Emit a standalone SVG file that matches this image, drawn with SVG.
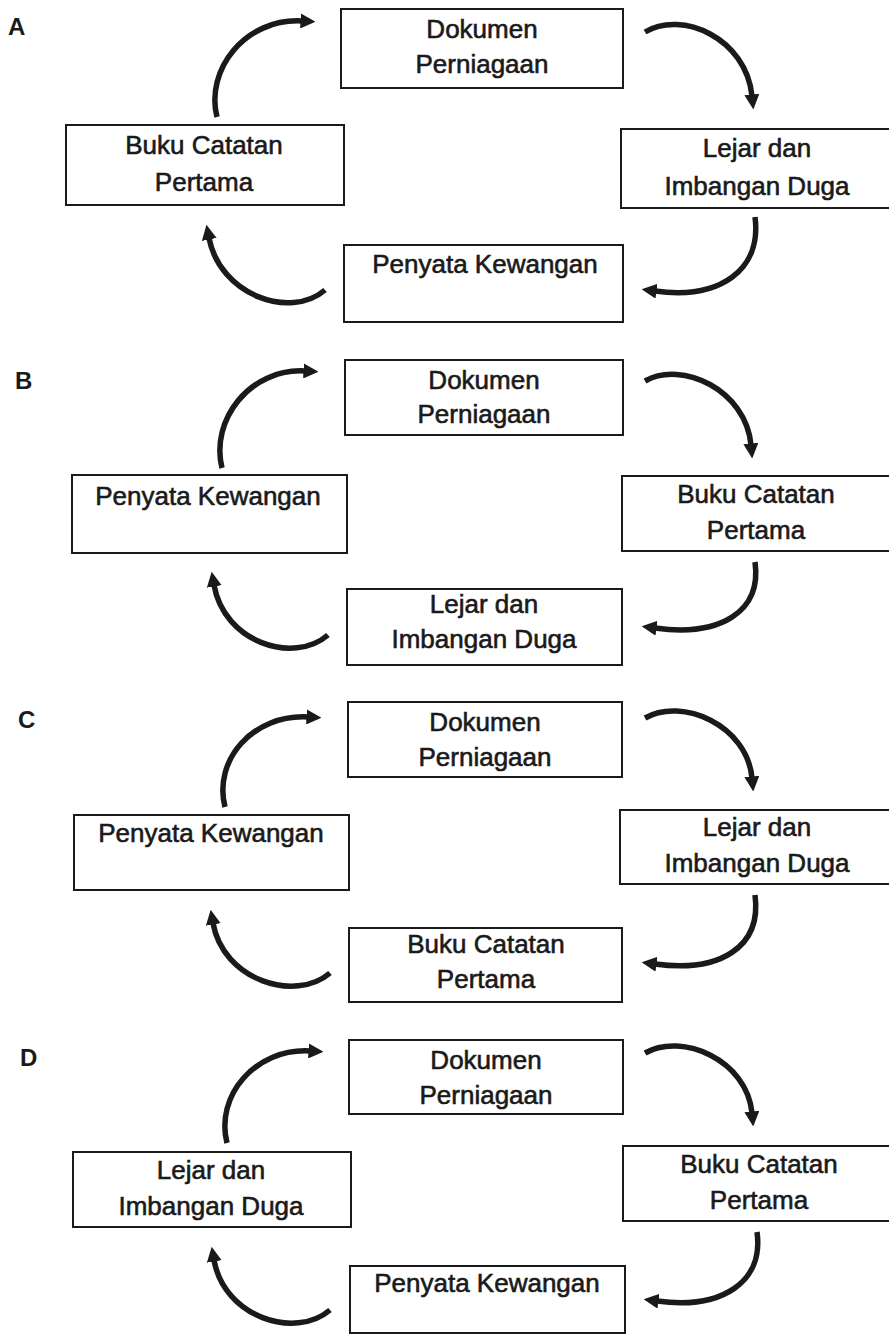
<svg xmlns="http://www.w3.org/2000/svg" width="889" height="1341" viewBox="0 0 889 1341">
<defs>
<style>
.box{fill:#fff;stroke:#1a1a1a;stroke-width:2}
.t{font-family:"Liberation Sans",Arial,sans-serif;font-size:26px;fill:#1a1a1a;stroke:#1a1a1a;stroke-width:0.6px;text-anchor:middle}
.lbl{font-family:"Liberation Sans",Arial,sans-serif;font-size:24px;font-weight:bold;fill:#1a1a1a}
.arr{fill:none;stroke:#1a1a1a;stroke-width:5.5;stroke-linecap:butt;marker-end:url(#ah)}
</style>
<marker id="ah" viewBox="0 0 10 10" refX="1" refY="5" markerWidth="15" markerHeight="15" markerUnits="userSpaceOnUse" orient="auto">
<path d="M0,0 L10,5 L0,10 z" fill="#1a1a1a"/>
</marker>
</defs>
<rect width="889" height="1341" fill="#fff"/>

<!-- Section A -->
<text class="lbl" x="8" y="35">A</text>
<g id="a-dokumen"><rect class="box" x="341" y="9" width="282" height="79"/><text class="t" x="482" y="38">Dokumen</text><text class="t" x="482" y="73">Perniagaan</text></g>
<g id="a-buku"><rect class="box" x="66" y="125" width="278" height="80"/><text class="t" x="204" y="154">Buku Catatan</text><text class="t" x="204" y="191">Pertama</text></g>
<g id="a-lejar"><rect class="box" x="621" y="129" width="272" height="79"/><text class="t" x="757" y="157">Lejar dan</text><text class="t" x="757" y="195">Imbangan Duga</text></g>
<g id="a-penyata"><rect class="box" x="344" y="245" width="279" height="77"/><text class="t" x="485" y="273">Penyata Kewangan</text></g>

<!-- Section B -->
<text class="lbl" x="15" y="389">B</text>
<g id="b-dokumen"><rect class="box" x="345" y="360" width="278" height="75"/><text class="t" x="484" y="389">Dokumen</text><text class="t" x="484" y="423">Perniagaan</text></g>
<g id="b-penyata"><rect class="box" x="72" y="475" width="275" height="78"/><text class="t" x="208" y="505">Penyata Kewangan</text></g>
<g id="b-buku"><rect class="box" x="622" y="476" width="271" height="75"/><text class="t" x="756" y="503">Buku Catatan</text><text class="t" x="756" y="539">Pertama</text></g>
<g id="b-lejar"><rect class="box" x="347" y="589" width="275" height="76"/><text class="t" x="484" y="613">Lejar dan</text><text class="t" x="484" y="648">Imbangan Duga</text></g>

<!-- Section C -->
<text class="lbl" x="18" y="728">C</text>
<g id="c-dokumen"><rect class="box" x="348" y="702" width="274" height="75"/><text class="t" x="485" y="731">Dokumen</text><text class="t" x="485" y="766">Perniagaan</text></g>
<g id="c-penyata"><rect class="box" x="74" y="815" width="275" height="75"/><text class="t" x="211" y="842">Penyata Kewangan</text></g>
<g id="c-lejar"><rect class="box" x="620" y="810" width="273" height="74"/><text class="t" x="757" y="836">Lejar dan</text><text class="t" x="757" y="872">Imbangan Duga</text></g>
<g id="c-buku"><rect class="box" x="349" y="928" width="273" height="74"/><text class="t" x="486" y="953">Buku Catatan</text><text class="t" x="486" y="988">Pertama</text></g>

<!-- Section D -->
<text class="lbl" x="20" y="1066">D</text>
<g id="d-dokumen"><rect class="box" x="349" y="1040" width="274" height="74"/><text class="t" x="486" y="1069">Dokumen</text><text class="t" x="486" y="1104">Perniagaan</text></g>
<g id="d-lejar"><rect class="box" x="73" y="1152" width="278" height="75"/><text class="t" x="211" y="1179">Lejar dan</text><text class="t" x="211" y="1215">Imbangan Duga</text></g>
<g id="d-buku"><rect class="box" x="623" y="1146" width="270" height="75"/><text class="t" x="759" y="1173">Buku Catatan</text><text class="t" x="759" y="1209">Pertama</text></g>
<g id="d-penyata"><rect class="box" x="350" y="1266" width="275" height="67"/><text class="t" x="487" y="1292">Penyata Kewangan</text></g>

<g id="connectors">
<path class="arr" d="M217,117 C205,70 245,18 302,21"/>
<path class="arr" d="M645,32 C682,10 746,38 752,96"/>
<path class="arr" d="M755,217 C762,270 720,300 655,291"/>
<path class="arr" d="M325,290 C290,320 220,295 209,238"/>

<path class="arr" d="M222,468 C210,420 250,368 305,371"/>
<path class="arr" d="M645,381 C682,360 746,390 751,445"/>
<path class="arr" d="M755,562 C762,612 720,637 655,628"/>
<path class="arr" d="M328,635 C293,665 224,642 214,585"/>

<path class="arr" d="M225,807 C213,760 253,714 308,717"/>
<path class="arr" d="M645,718 C682,697 747,725 752,778"/>
<path class="arr" d="M755,895 C762,947 720,973 655,964"/>
<path class="arr" d="M330,973 C295,1003 223,980 213,923"/>

<path class="arr" d="M227,1143 C215,1096 255,1048 310,1051"/>
<path class="arr" d="M645,1053 C682,1032 747,1060 752,1113"/>
<path class="arr" d="M757,1232 C764,1282 722,1310 657,1301"/>
<path class="arr" d="M330,1310 C295,1340 224,1317 214,1260"/>
</g>
</svg>
